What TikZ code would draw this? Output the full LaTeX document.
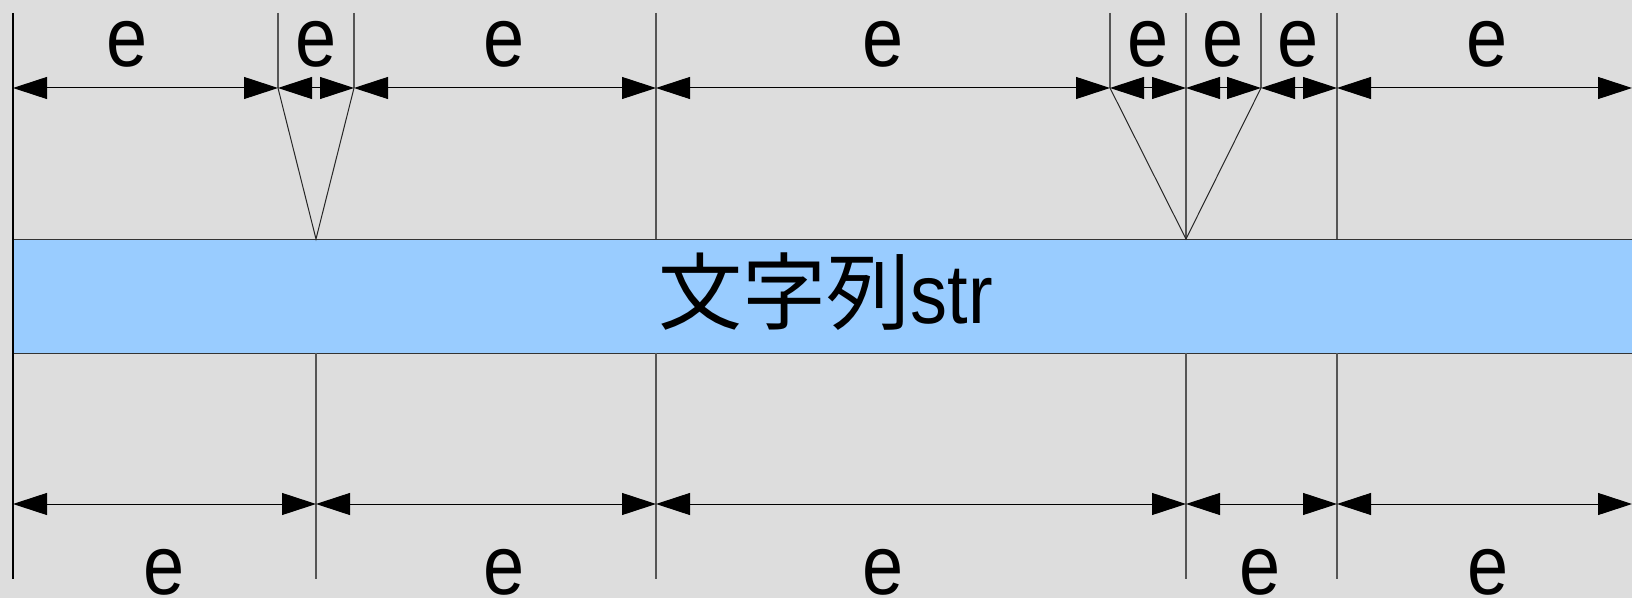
\documentclass[tikz,border=0pt]{standalone}
\usepackage{fontspec}
\setmainfont{Liberation Sans}[FakeStretch=0.88]
\newfontfamily\cjk{Noto Sans CJK JP}
\usetikzlibrary{arrows.meta}
\definecolor{bg}{HTML}{DDDDDD}
\definecolor{band}{HTML}{99CCFF}
\definecolor{ext}{HTML}{555555}
\tikzset{
  dimline/.style={line width=0.5pt, black, {Triangle[length=17pt,width=11pt]}-{Triangle[length=17pt,width=11pt]}},
  extline/.style={line width=0.7pt, ext},
  vline/.style={line width=0.5pt, black!85},
  lbl/.style={anchor=base, inner sep=0pt, font=\fontsize{42}{50}\selectfont}
}
\begin{document}
\begin{tikzpicture}[x=0.5pt,y=-0.5pt]
\useasboundingbox (0,0) rectangle (1632,598);
\clip (0,0) rectangle (1632,598);
\fill[bg] (0,0) rectangle (1632,598);
% band
\node[draw=black!80, line width=0.6pt, fill=band, minimum width=820pt, minimum height=57pt, inner sep=0pt, anchor=north west] (band) at (13,239) {};
\node[lbl] (txt) at (826,324) {{\cjk 文字列}str};
% top coordinates
\foreach \n/\x in {0/13,1/278,2/354,3/656,4/1110,5/1186,6/1261,7/1337,8/1632}{
  \coordinate (t\n) at (\x,88);
  \coordinate (tt\n) at (\x,13);
  \coordinate (tb\n) at (\x,239);
}
\coordinate (vA) at (316,239);
% bottom coordinates
\foreach \n/\x in {0/13,1/316,2/656,3/1186,4/1337,5/1632}{
  \coordinate (b\n) at (\x,504);
  \coordinate (bt\n) at (\x,353);
  \coordinate (bb\n) at (\x,579);
}
% extension lines top
\draw[line width=0.8pt, black] (tt0) -- (bb0);
\draw[extline] (tt1) -- (t1);
\draw[extline] (tt2) -- (t2);
\draw[extline] (tt3) -- (tb3);
\draw[extline] (tt4) -- (t4);
\draw[extline] (tt5) -- (tb5);
\draw[extline] (tt6) -- (t6);
\draw[extline] (tt7) -- (tb7);
% V lines
\draw[vline] (t1) -- (vA) -- (t2);
\draw[vline] (t4) -- (tb5) -- (t6);
% extension lines bottom
\foreach \n in {1,2,3,4}{
  \draw[extline] (bt\n) -- (bb\n);
}
% dimension lines
\foreach \a/\b in {0/1,1/2,2/3,3/4,4/5,5/6,6/7,7/8}{
  \draw[dimline] (t\a) -- (t\b);
}
\foreach \a/\b in {0/1,1/2,2/3,3/4,4/5}{
  \draw[dimline] (b\a) -- (b\b);
}
% labels top
\foreach \n/\x in {1/127.5,2/316,3/504,4/883,5/1148,6/1223,7/1298,8/1487}{
  \node[lbl] (et\n) at (\x,67) {e};
}
% labels bottom
\foreach \n/\x in {1/164,2/504,3/883,4/1260,5/1488}{
  \node[lbl] (eb\n) at (\x,594) {e};
}
\end{tikzpicture}
\end{document}
